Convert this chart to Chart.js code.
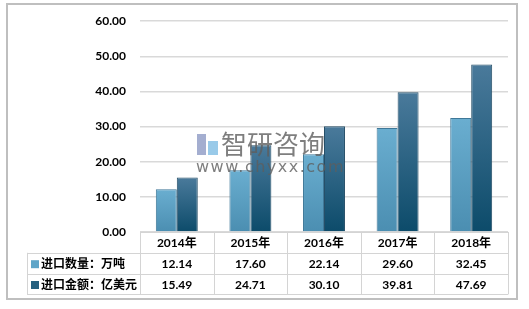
<!DOCTYPE html>
<html>
<head>
<meta charset="utf-8">
<script src="https://cdn.jsdelivr.net/npm/chart.js@4/dist/chart.umd.min.js"></script>
<style>
  html, body { margin: 0; padding: 0; background: #fff; }
  canvas { display: block; }
</style>
</head>
<body>
<canvas id="chart" width="529" height="309"></canvas>
<script>
// data
const years = ['2014年', '2015年', '2016年', '2017年', '2018年'];
const importVolume = [12.14, 17.60, 22.14, 29.60, 32.45];
const importValue = [15.49, 24.71, 30.10, 39.81, 47.69];
const seriesNames = ['进口数量：万吨', '进口金额：亿美元'];
const yMin = 0, yMax = 60, yStep = 10;

const FONT = "Lato, 'Noto Sans CJK SC', sans-serif";

// per-bar vertical gradient
function barGradient(topColor, bottomColor, flat) {
  return (c) => {
    const chart = c.chart;
    const area = chart.chartArea;
    if (!area || !chart.scales.y || c.raw == null) return flat;
    const top = chart.scales.y.getPixelForValue(c.raw);
    const g = chart.ctx.createLinearGradient(0, top, 0, area.bottom);
    g.addColorStop(0, topColor);
    g.addColorStop(1, bottomColor);
    return g;
  };
}

const tablePlugin = {
  id: 'dataTable',
  beforeDraw(chart) {
    const ctx = chart.ctx;
    ctx.save();
    ctx.fillStyle = '#fff';
    ctx.fillRect(0, 0, chart.width, chart.height);
    ctx.strokeStyle = '#bfbfbf';
    ctx.lineWidth = 2;
    ctx.strokeRect(7, 4, 510, 295);
    ctx.restore();
  },
  afterDatasetsDraw(chart) {
    // watermark
    const ctx = chart.ctx;
    ctx.save();
    ctx.globalAlpha = 0.8;
    ctx.fillStyle = '#8d9ac4';
    ctx.fillRect(197, 134, 9, 21);
    ctx.fillStyle = '#7fbde3';
    ctx.fillRect(208, 141, 10, 14);
    ctx.fillStyle = '#5e5e5e';
    ctx.font = "26px 'Noto Sans CJK SC', sans-serif";
    ctx.textBaseline = 'middle';
    ctx.textAlign = 'left';
    ctx.fillText('智研咨询', 221, 144);
    ctx.font = "16px 'DejaVu Sans', sans-serif";
    ctx.letterSpacing = '1.5px';
    ctx.fillText('www.chyxx.com', 196, 168);
    ctx.restore();
  },
  afterDraw(chart) {
    const ctx = chart.ctx;
    const area = chart.chartArea;
    const x = chart.scales.x;
    const n = years.length;
    const colW = (area.right - area.left) / n;
    const rowH = 20.8;
    const top = area.bottom;
    const tableLeft = 27;

    ctx.save();
    ctx.strokeStyle = '#d4d4d4';
    ctx.lineWidth = 1;
    ctx.beginPath();
    // horizontal lines
    ctx.moveTo(area.left, top + 0.5);
    ctx.lineTo(area.right, top + 0.5);
    for (let r = 1; r <= 3; r++) {
      const y = Math.round(top + r * rowH) + 0.5;
      ctx.moveTo(tableLeft, y);
      ctx.lineTo(area.right, y);
    }
    // vertical lines
    for (let i = 0; i <= n; i++) {
      const xx = Math.round(area.left + i * colW) + 0.5;
      ctx.moveTo(xx, top);
      ctx.lineTo(xx, top + 3 * rowH);
    }
    ctx.moveTo(tableLeft + 0.5, top + rowH);
    ctx.lineTo(tableLeft + 0.5, top + 3 * rowH);
    ctx.stroke();

    // rows
    const rows = [importVolume, importValue];
    const markColors = ['#5ea5c8', '#25607f'];
    ctx.font = 'bold 12px ' + FONT;
    ctx.textBaseline = 'middle';
    rows.forEach((vals, r) => {
      const cy = top + (r + 1.5) * rowH + 1;
      ctx.fillStyle = markColors[r];
      ctx.fillRect(31, cy - 4, 8, 8);
      ctx.fillStyle = '#000';
      ctx.textAlign = 'left';
      ctx.fillText(seriesNames[r], 41, cy);
      ctx.textAlign = 'center';
      vals.forEach((v, i) => {
        ctx.fillText(v.toFixed(2), x.getPixelForValue(i), cy);
      });
    });
    ctx.restore();
  }
};

new Chart(document.getElementById('chart'), {
  type: 'bar',
  data: {
    labels: years,
    datasets: [
      {
        label: seriesNames[0],
        data: importVolume,
        backgroundColor: barGradient('#6aaed0', '#4b8eb1', '#5ea5c8'),
        borderColor: '#3f7898',
        borderWidth: 1,
        categoryPercentage: 0.57,
        barPercentage: 1
      },
      {
        label: seriesNames[1],
        data: importValue,
        backgroundColor: barGradient('#4a7a9b', '#0c4b6a', '#25607f'),
        borderColor: '#264f68',
        borderWidth: 1,
        categoryPercentage: 0.57,
        barPercentage: 1
      }
    ]
  },
  options: {
    responsive: false,
    animation: false,
    layout: { padding: { top: 18, right: 21, bottom: 0, left: 0 } },
    plugins: {
      legend: { display: false },
      tooltip: { enabled: false }
    },
    scales: {
      x: {
        grid: { display: false, drawTicks: false },
        border: { display: false },
        ticks: { color: '#000', font: { family: FONT, size: 12, weight: 'bold' }, padding: 4 },
        afterFit(scale) { scale.height = 77; }
      },
      y: {
        min: yMin,
        max: yMax,
        grid: { color: '#d9d9d9', lineWidth: 1.5, drawTicks: false },
        border: { display: false },
        ticks: {
          stepSize: yStep,
          padding: 14,
          color: '#000',
          font: { family: FONT, size: 12, weight: 'bold' },
          callback: (v) => v.toFixed(2)
        },
        afterFit(scale) { scale.width = 140; }
      }
    }
  },
  plugins: [tablePlugin]
});
</script>
</body>
</html>
